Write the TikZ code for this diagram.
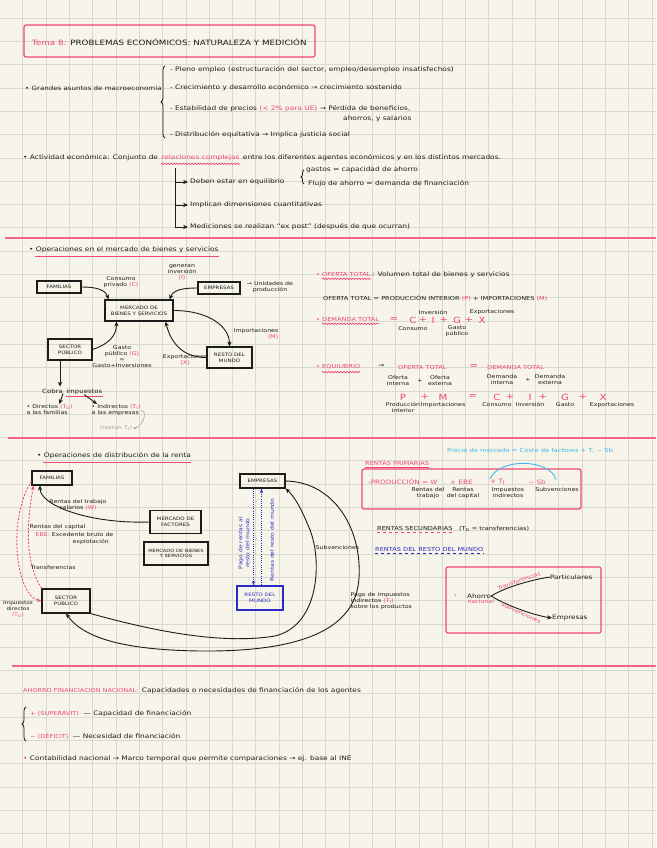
\documentclass[tikz,border=0pt]{standalone}
\usepackage{fontspec}
\setmainfont{DejaVu Sans}[FakeStretch=1.2]
\usepackage{tikz}
\usetikzlibrary{arrows.meta,positioning,decorations.pathreplacing,decorations.pathmorphing,calc}
\definecolor{paper}{HTML}{F7F5E9}
\definecolor{gridc}{HTML}{D9D8D1}
\definecolor{marker}{HTML}{F0467A}
\definecolor{ink}{HTML}{1C1C1C}
\definecolor{inkblue}{HTML}{2A2CC8}
\definecolor{skyblue}{HTML}{41B6EC}
\definecolor{pencil}{HTML}{A6A6A6}
\tikzset{
  gridline/.style={draw=gridc, line width=0.5pt},
  sepline/.style={draw=marker!85, line width=1.6pt},
  framebox/.style={draw=marker, line width=1.2pt, rounded corners=2pt},
  notebox/.style={draw=ink, line width=1.1pt, inner sep=2pt, align=center,
    text=ink, font=\fontsize{4.6}{5.8}\selectfont},
  bluebox/.style={notebox, draw=inkblue, text=inkblue},
  txt/.style={anchor=west, inner sep=0pt, text=ink, font=\fontsize{6.2}{7.5}\selectfont},
  pinktxt/.style={txt, text=marker},
  bluetxt/.style={txt, text=inkblue},
  capstxt/.style={txt, font=\fontsize{5.5}{7}\selectfont},
  lbl/.style={inner sep=0.5pt, align=center, text=ink, font=\fontsize{5.2}{6}\selectfont},
  sym/.style={inner sep=0.5pt, text=marker, font=\fontsize{8.5}{9}\selectfont},
  arr/.style={-{Stealth[length=1.7mm, width=1.5mm]}, line width=0.9pt, draw=ink},
  pinkdash/.style={-{Stealth[length=1.6mm]}, line width=0.9pt, draw=marker,
    dash pattern=on 2pt off 1.6pt},
  bluedot/.style={-{Stealth[length=1.5mm]}, line width=0.9pt, draw=inkblue,
    dash pattern=on 1pt off 1.2pt},
  wavy/.style={draw=marker, line width=0.7pt, decorate,
    decoration={snake, amplitude=0.7pt, segment length=3pt}},
  underl/.style={draw=marker, line width=0.9pt},
  bracket/.style={draw=ink, line width=0.8pt, decorate, decoration={brace, amplitude=4pt}}
}
\begin{document}
\begin{tikzpicture}[x=1pt,y=-1pt]
\useasboundingbox (0,0) rectangle (656,848);
\fill[paper] (0,0) rectangle (656,848);
\foreach \i in {1,...,28} \draw[gridline] (\i*23.3-0.6,0) -- (\i*23.3-0.6,848);
\foreach \j in {0,...,35} \draw[gridline] (0,18+\j*23.3) -- (656,18+\j*23.3);

% title
\draw[framebox] (24,25) rectangle (315,57);
\node[txt, font=\fontsize{7.3}{8.5}\selectfont] (title) at (32,42)
  {\textcolor{marker}{Tema 8:} PROBLEMAS ECONÓMICOS: NATURALEZA Y MEDICIÓN};

% grandes asuntos
\node[txt, font=\fontsize{5.9}{7}\selectfont] (macro) at (25,88) {• Grandes asuntos de macroeconomía};
\draw[bracket] (165,138) -- (165,66);
\node[txt] (m1) at (170,70) {- Pleno empleo (estructuración del sector, empleo/desempleo insatisfechos)};
\node[txt] (m2) at (170,88) {- Crecimiento y desarrollo económico → crecimiento sostenido};
\node[txt] (m3) at (170,109) {- Estabilidad de precios \textcolor{marker}{(< 2\% para UE)} → Pérdida de beneficios,};
\node[txt] (m3b) at (343,119) {ahorros, y salarios};
\node[txt] (m4) at (170,135) {- Distribución equitativa → Implica justicia social};

% actividad economica
\node[txt] (act1) at (23,158) {• Actividad económica: Conjunto de};
\node[txt, text=marker, anchor=base west] (act2) at ([xshift=3pt]act1.base east) {relaciones complejas};
\node[txt, anchor=base west] (act3) at ([xshift=3pt]act2.base east)
  {entre los diferentes agentes económicos y en los distintos mercados.};
\draw[wavy] ($(act2.south west)+(0,2.5)$) -- ($(act2.south east)+(0,2.5)$);
\coordinate (trunk) at (175,168);
\node[txt] (eq) at (190,182) {Deben estar en equilibrio};
\node[txt] (dim) at (190,205) {Implican dimensiones cuantitativas};
\node[txt] (med) at (190,227) {Mediciones se realizan “ex post” (después de que ocurran)};
\draw[arr] (trunk) |- ([xshift=-2pt]med.west);
\draw[arr] (trunk |- eq.west) -- ([xshift=-2pt]eq.west);
\draw[arr] (trunk |- dim.west) -- ([xshift=-2pt]dim.west);
\node[txt] (gas) at (306,170) {gastos = capacidad de ahorro};
\node[txt] (flu) at (308,184) {Flujo de ahorro = demanda de financiación};
\draw[bracket, decoration={brace, amplitude=3pt}] ([xshift=-4pt]flu.west) -- ([xshift=-4pt]flu.west |- gas.west);

\draw[sepline] (5,238) -- (656,238);

% mercado de bienes y servicios
\node[txt] (ops) at (29,250) {• Operaciones en el mercado de bienes y servicios};
\draw[underl] ($(ops.south west)+(6,3)$) -- ($(ops.south east)+(0,3)$);
\node[notebox, minimum width=44pt, minimum height=12pt] (fam) at (59,287) {FAMILIAS};
\node[notebox, minimum width=68pt, minimum height=21pt] (mbs) at (139,310.5) {MERCADO DE\\BIENES Y SERVICIOS};
\node[notebox, minimum width=42pt, minimum height=12pt] (emp) at (219,288) {EMPRESAS};
\node[notebox, minimum width=44pt, minimum height=21pt] (sp) at (70,349.5) {SECTOR\\PÚBLICO};
\node[notebox, minimum width=45pt, minimum height=21pt] (rm) at (229.5,357.5) {RESTO DEL\\MUNDO};
\node[lbl] (lC) at (121,282) {Consumo\\privado \textcolor{marker}{(C)}};
\node[lbl] (lI) at (182,272) {generan\\inversión\\\textcolor{marker}{(I)}};
\node[lbl] (lprod) at (270,287) {→ Unidades de\\producción};
\node[lbl, align=right, anchor=east] (lM) at (279,334) {Importaciones\\\textcolor{marker}{(M)}};
\node[lbl] (lX) at (185,360) {Exportaciones\\\textcolor{marker}{(X)}};
\node[lbl] (lG) at (122,357) {Gasto\\público \textcolor{marker}{(G)}\\=\\Gasto+Inversiones};
\draw[arr] (fam.east) .. controls +(14,0) and +(-3,-10) .. ([xshift=4pt]mbs.north west);
\draw[arr] (emp.west) .. controls +(-14,0) and +(4,-10) .. ([xshift=-4pt]mbs.north east);
\draw[arr] (mbs.east) .. controls +(35,0) and +(0,-20) .. (rm.north);
\draw[arr] (rm.west) .. controls +(-25,0) and +(5,20) .. ([xshift=-8pt]mbs.south east);
\draw[arr] (sp.east) .. controls +(15,-5) and +(0,15) .. ([xshift=12pt]mbs.south west);
\node[txt, font=\fontsize{5.8}{7}\selectfont] (cobra1) at (42,391) {Cobra};
\node[txt, font=\fontsize{5.8}{7}\selectfont, anchor=base west] (cobra2) at ([xshift=3pt]cobra1.base east) {impuestos};
\draw[underl] ($(cobra2.south west)+(0,2)$) -- ($(cobra2.south east)+(0,2)$);
\draw[arr, shorten >=2pt] ([xshift=-10pt]sp.south) -- ([xshift=-10pt]sp.south |- cobra1.north);
\node[lbl, align=left, anchor=north west] (dir) at (26,404) {• Directos \textcolor{marker}{(T\textsubscript{D})}\\a las familias};
\node[lbl, align=left, anchor=north west] (ind) at (91,404) {• Indirectos \textcolor{marker}{(T\textsubscript{I})}\\a las empresas};
\node[lbl, text=pencil] (grey) at (116,428) {(restan T\textsubscript{I})};
\draw[arr] (cobra1.south east) -- ([xshift=-14pt]dir.north east);
\draw[arr] (cobra2.south) -- ([xshift=6pt]ind.north west);
\draw[pencil, line width=0.6pt, -{Stealth[length=1.2mm]}] (ind.east) .. controls +(8,2) and +(8,0) .. (grey.east);

% oferta y demanda
\node[capstxt, text=marker] (ot1) at (316,274) {• OFERTA TOTAL};
\node[txt, anchor=base west] (ot2) at ([xshift=1pt]ot1.base east) {: Volumen total de bienes y servicios};
\draw[wavy] ($(ot1.south west)+(6,2.5)$) -- ($(ot1.south east)+(0,2.5)$);
\node[capstxt] (oteq) at (323,298)
  {OFERTA TOTAL = PRODUCCIÓN INTERIOR \textcolor{marker}{(P)} + IMPORTACIONES \textcolor{marker}{(M)}};
\node[capstxt, text=marker] (dt) at (316,319) {• DEMANDA TOTAL};
\draw[wavy] ($(dt.south west)+(6,2.5)$) -- ($(dt.south east)+(0,2.5)$);
\foreach \s/\x/\n in {=/394/dEq, C/413/dC, +/423/dp1, I/433/dI, +/444/dp2, G/457/dG, +/469/dp3, X/482/dX}
  \node[sym] (\n) at (\x,320) {\s};
\node[lbl, below=2pt of dC] (ldC) {Consumo};
\node[lbl, above=1pt of dI] (ldI) {Inversión};
\node[lbl, below=1pt of dG] (ldG) {Gasto\\público};
\node[lbl, above=1pt of dX, xshift=10pt] (ldX) {Exportaciones};
\node[capstxt, text=marker] (eqb) at (316,367) {• EQUILIBRIO};
\draw[wavy] ($(eqb.south west)+(6,2.5)$) -- ($(eqb.south east)+(0,2.5)$);
\node[txt] (eqarr) at (378,366) {→};
\node[capstxt, text=marker] (eqot) at (398,367) {OFERTA TOTAL};
\node[sym] (eqeq) at (474,367) {=};
\node[capstxt, text=marker] (eqdt) at (487,367) {DEMANDA TOTAL};
\node[lbl] (oi) at (398,381) {Oferta\\interna};
\node[lbl] (oplus) at (420,381) {+};
\node[lbl] (oe) at (440,381) {Oferta\\externa};
\node[lbl] (di) at (502,380) {Demanda\\interna};
\node[lbl] (dplus) at (528,380) {+};
\node[lbl] (de) at (550,380) {Demanda\\externa};
\foreach \s/\x/\n in {P/403/rP, +/425/r1, M/443/rM, =/473/r2, C/497/rC, +/510/r3, I/530/rI, +/543/r4, G/565/rG, +/583/r5, X/603/rX}
  \node[sym] (\n) at (\x,397) {\s};
\node[lbl, below=1pt of rP] (lrP) {Producción\\interior};
\node[lbl, below=1pt of rM] (lrM) {Importaciones};
\node[lbl, below=1pt of rC] (lrC) {Consumo};
\node[lbl, below=1pt of rI] (lrI) {Inversión};
\node[lbl, below=1pt of rG] (lrG) {Gasto};
\node[lbl, below=1pt of rX, xshift=9pt] (lrX) {Exportaciones};

\draw[sepline] (8,438) -- (656,438);

% distribucion de la renta
\node[txt] (dist) at (37,456) {• Operaciones de distribución de la renta};
\draw[underl] ($(dist.south west)+(6,3)$) -- ($(dist.south east)+(0,3)$);
\node[notebox, minimum width=40pt, minimum height=14pt] (fam2) at (52,478) {FAMILIAS};
\node[notebox, minimum width=51pt, minimum height=23pt] (mf) at (175.5,522) {MERCADO DE\\FACTORES};
\node[notebox, minimum width=64pt, minimum height=23pt, font=\fontsize{4.3}{5.6}\selectfont] (mbs2) at (176,553.5) {MERCADO DE BIENES\\Y SERVICIOS};
\node[notebox, minimum width=45pt, minimum height=14pt] (emp2) at (262.5,481) {EMPRESAS};
\node[bluebox, minimum width=46pt, minimum height=24pt] (rm2) at (260,598) {RESTO DEL\\MUNDO};
\node[notebox, minimum width=48pt, minimum height=24pt] (sp2) at (66,601) {SECTOR\\PÚBLICO};
\draw[arr] (mf.west) .. controls +(-60,2) and +(0,20) .. ([xshift=-12pt]fam2.south);
\draw[pinkdash] ($(fam2.west)+(0,3)$) .. controls +(-25,40) and +(-25,-5) .. (sp2.west);
\draw[pinkdash] (sp2.north west) .. controls +(-18,-30) and +(-6,35) .. ([xshift=2pt]fam2.south west);
\node[lbl] (lW) at (78,505) {Rentas del trabajo\\salarios \textcolor{marker}{(W)}};
\node[lbl, anchor=west] (lK1) at (29,527) {Rentas del capital};
\node[lbl, anchor=west] (lK2) at (35,535) {\textcolor{marker}{EBE:} Excedente bruto de};
\node[lbl, anchor=west] (lK3) at (72,542) {explotación};
\node[lbl, anchor=west] (lTr) at (30,568) {Transferencias};
\node[lbl, font=\fontsize{4.8}{6}\selectfont] (lTD) at (18,609) {Impuestos\\directos\\\textcolor{marker}{(T\textsubscript{D})}};
\draw[bluedot] ([xshift=-9pt]emp2.south) -- ([xshift=-9pt]emp2.south |- rm2.north);
\draw[bluedot] ([xshift=-1pt]emp2.south |- rm2.north) -- ([xshift=-1pt]emp2.south);
\node[bluetxt, rotate=90, anchor=center, align=center, font=\fontsize{5}{7}\selectfont] (bl1) at (244,543) {Pago de rentas al\\resto del mundo};
\node[bluetxt, rotate=90, anchor=center, font=\fontsize{5}{7}\selectfont] (bl2) at (272,540) {Rentas del resto del mundo};
\draw[arr] (emp2.east) .. controls (335,482) and (362,530) .. (359,578)
  .. controls (356,630) and (300,652) .. (200,651)
  .. controls (130,650) and (85,640) .. (sp2.south);
\draw[arr] (sp2.south east) .. controls (150,630) and (220,645) .. (275,636)
  .. controls (320,625) and (322,560) .. (310,530)
  .. controls (302,510) and (295,497) .. (emp2.south east);
\node[lbl, anchor=west] (lSub) at (315,548) {Subvenciones};
\node[lbl, align=left, anchor=north west] (lTI) at (350,592) {Pago de impuestos\\indirectos \textcolor{marker}{(T\textsubscript{I})}\\sobre los productos};

% rentas
\node[txt, text=skyblue, font=\fontsize{5.6}{7}\selectfont] (pm) at (447,451) {Precio de mercado = Coste de factores + T\textsubscript{I} − Sb};
\node[capstxt, text=marker] (rp) at (365,463) {RENTAS PRIMARIAS};
\draw[underl] ($(rp.south west)+(0,2)$) -- ($(rp.south east)+(0,2)$);
\draw[framebox] (362,469) rectangle (581,509);
\node[pinktxt, font=\fontsize{6}{7}\selectfont] (prod) at (368,482) {-PRODUCCIÓN = W};
\node[pinktxt, font=\fontsize{6}{7}\selectfont] (ebe) at (450,482) {+ EBE};
\node[pinktxt, font=\fontsize{6}{7}\selectfont] (ti) at (490,482) {+ T\textsubscript{I}};
\node[pinktxt, font=\fontsize{6}{7}\selectfont] (sb) at (528,482) {− Sb};
\node[lbl] (lrt) at (428,493) {Rentas del\\trabajo};
\node[lbl] (lrc) at (463,493) {Rentas\\del capital};
\node[lbl] (lii) at (508,493) {Impuestos\\indirectos};
\node[lbl] (lsb) at (557,490) {Subvenciones};
\draw[skyblue, line width=0.9pt] (ti.north west) .. controls +(10,-22) and +(-5,-20) .. ([xshift=10pt]sb.north east);
\node[capstxt] (rs) at (377,528) {RENTAS SECUNDARIAS};
\node[capstxt, anchor=base west] (rs2) at ([xshift=6pt]rs.base east) {(T\textsubscript{D} = transferencias)};
\draw[marker, dashed, line width=0.7pt] ($(rs.south west)+(0,2.5)$) -- ($(rs.south east)+(0,2.5)$);
\node[capstxt, text=inkblue] (rrm) at (375,549) {RENTAS DEL RESTO DEL MUNDO};
\draw[inkblue, dashed, line width=0.7pt] ($(rrm.south west)+(0,2.5)$) -- ($(rrm.south east)+(0,2.5)$);
\draw[framebox] (446,567) rectangle (601,633);
\node[pinktxt] (gt) at (454,596) {›};
\node[txt, font=\fontsize{6}{7}\selectfont] (ah) at (467,596) {Ahorro};
\node[lbl, text=marker, anchor=north west] (nac) at (ah.south west) {nacional};
\node[txt, font=\fontsize{6}{7}\selectfont] (part) at (550,577) {Particulares};
\node[txt, font=\fontsize{6}{7}\selectfont] (emps) at (552,618) {Empresas};
\draw[ink, line width=0.9pt] (ah.east) .. controls +(12,-8) and +(-20,3) .. (part.west);
\draw[arr] (ah.east) .. controls +(12,8) and +(-20,-3) .. (emps.west);
\node[lbl, text=marker, rotate=20] (ltr) at (519,581) {Transferencias};
\node[lbl, text=marker, rotate=-25] (lsv) at (521,613) {Subvenciones};

\draw[sepline] (12,666) -- (656,666);

% ahorro financiacion
\node[pinktxt, font=\fontsize{5.4}{7}\selectfont] (afn) at (23,690) {AHORRO FINANCIACIÓN NACIONAL:};
\node[txt, anchor=base west] (afn2) at ([xshift=3pt]afn.base east) {Capacidades o necesidades de financiación de los agentes};
\draw[bracket] (26,741) -- (26,707);
\node[pinktxt, font=\fontsize{5.5}{7}\selectfont] (sup) at (30,713) {+ (SUPERÁVIT)};
\node[txt, anchor=base west] (sup2) at ([xshift=4pt]sup.base east) {— Capacidad de financiación};
\node[pinktxt, font=\fontsize{5.5}{7}\selectfont] (def) at (30,736) {− (DÉFICIT)};
\node[txt, anchor=base west] (def2) at ([xshift=4pt]def.base east) {— Necesidad de financiación};
\node[txt] (cn) at (23,759) {\textcolor{marker}{•} Contabilidad nacional → Marco temporal que permite comparaciones → ej. base al INE};
\end{tikzpicture}
\end{document}
